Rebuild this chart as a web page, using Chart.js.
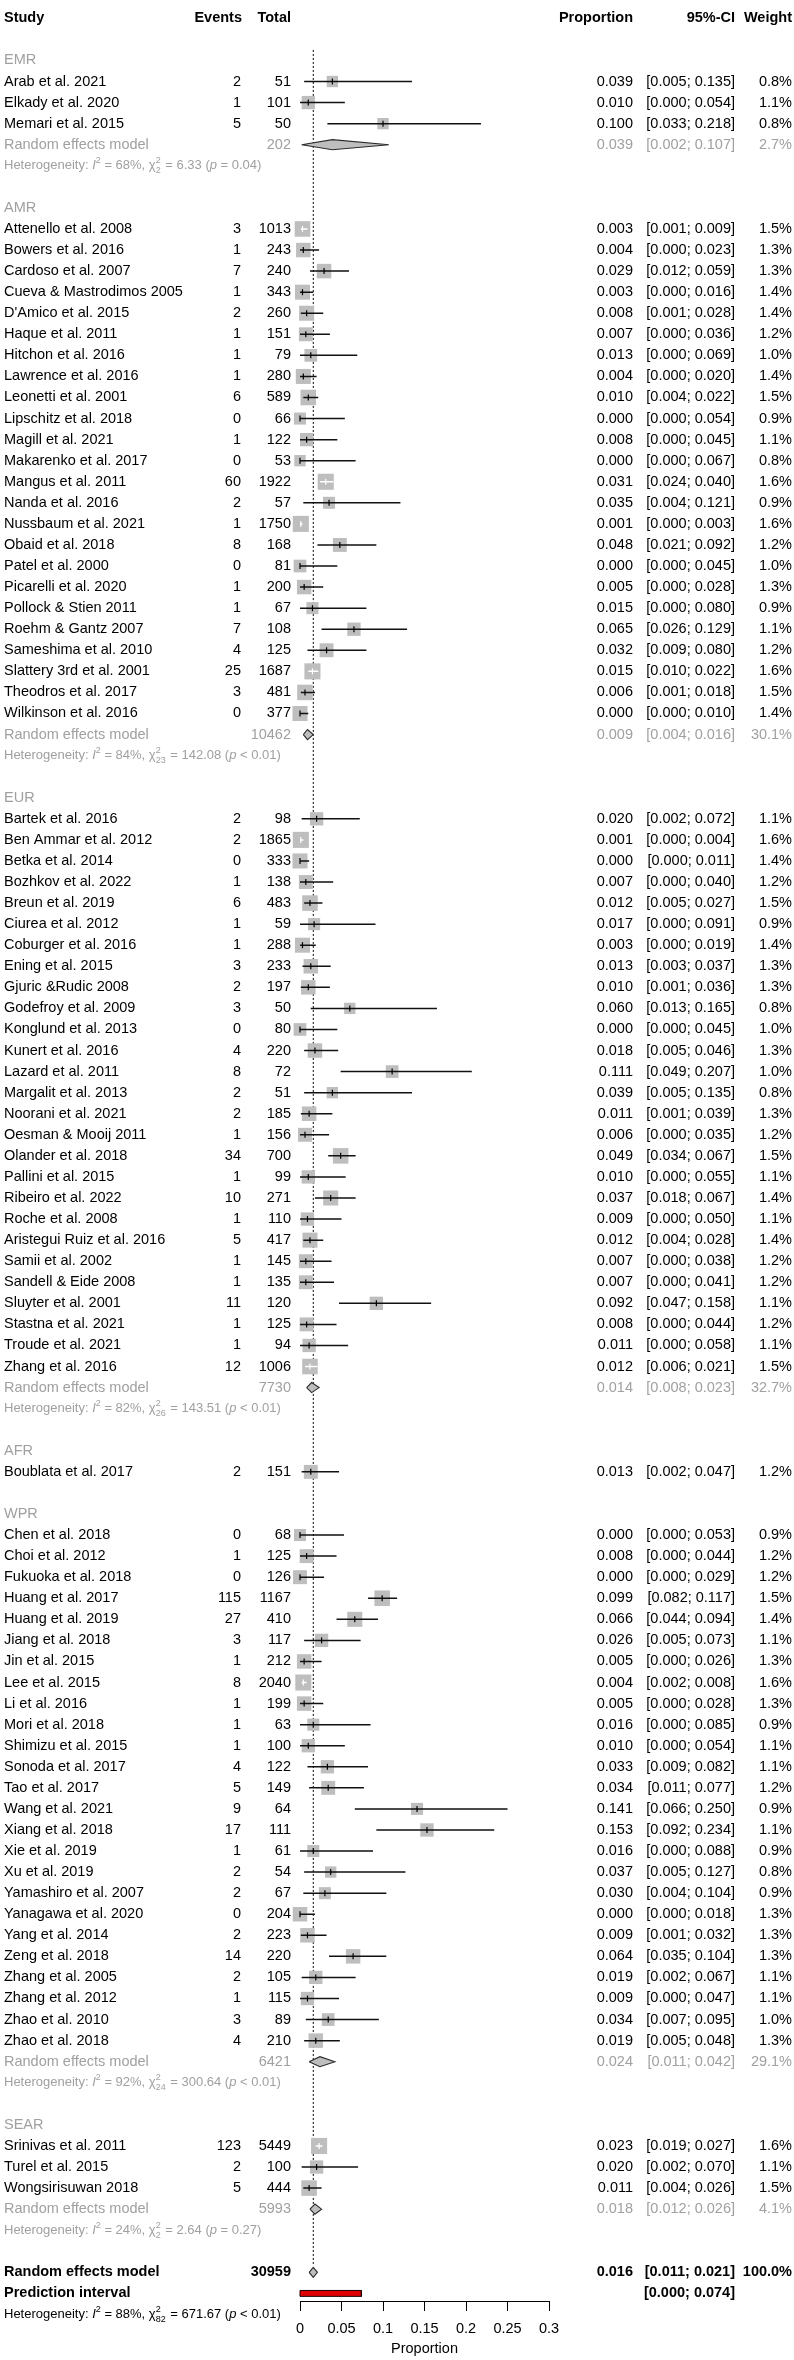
<!DOCTYPE html>
<html lang="en">
<head>
<meta charset="UTF-8" />
<title>Forest plot by WHO region</title>
<script src="https://cdn.jsdelivr.net/npm/chart.js"></script>
<style>
  body { margin: 0; background: #fff; }
  canvas { display: block; }
</style>
</head>
<body>
<canvas id="forest" width="794" height="2360"></canvas>
<script>
// ---- data ----
const regions = ['EMR', 'AMR', 'EUR', 'AFR', 'WPR', 'SEAR'];

const studyNames = [
  'Arab et al. 2021', 'Elkady et al. 2020', 'Memari et al. 2015',
  'Attenello et al. 2008', 'Bowers et al. 2016', 'Cardoso et al. 2007', 'Cueva & Mastrodimos 2005',
  "D'Amico et al. 2015", 'Haque et al. 2011', 'Hitchon et al. 2016', 'Lawrence et al. 2016',
  'Leonetti et al. 2001', 'Lipschitz et al. 2018', 'Magill et al. 2021', 'Makarenko et al. 2017',
  'Mangus et al. 2011', 'Nanda et al. 2016', 'Nussbaum et al. 2021', 'Obaid et al. 2018',
  'Patel et al. 2000', 'Picarelli et al. 2020', 'Pollock & Stien 2011', 'Roehm & Gantz 2007',
  'Sameshima et al. 2010', 'Slattery 3rd et al. 2001', 'Theodros et al. 2017', 'Wilkinson et al. 2016',
  'Bartek et al. 2016', 'Ben Ammar et al. 2012', 'Betka et al. 2014', 'Bozhkov et al. 2022',
  'Breun et al. 2019', 'Ciurea et al. 2012', 'Coburger et al. 2016', 'Ening et al. 2015',
  'Gjuric &Rudic 2008', 'Godefroy et al. 2009', 'Konglund et al. 2013', 'Kunert et al. 2016',
  'Lazard et al. 2011', 'Margalit et al. 2013', 'Noorani et al. 2021', 'Oesman & Mooij 2011',
  'Olander et al. 2018', 'Pallini et al. 2015', 'Ribeiro et al. 2022', 'Roche et al. 2008',
  'Aristegui Ruiz et al. 2016', 'Samii et al. 2002', 'Sandell & Eide 2008', 'Sluyter et al. 2001',
  'Stastna et al. 2021', 'Troude et al. 2021', 'Zhang et al. 2016',
  'Boublata et al. 2017',
  'Chen et al. 2018', 'Choi et al. 2012', 'Fukuoka et al. 2018', 'Huang et al. 2017',
  'Huang et al. 2019', 'Jiang et al. 2018', 'Jin et al. 2015', 'Lee et al. 2015', 'Li et al. 2016',
  'Mori et al. 2018', 'Shimizu et al. 2015', 'Sonoda et al. 2017', 'Tao et al. 2017',
  'Wang et al. 2021', 'Xiang et al. 2018', 'Xie et al. 2019', 'Xu et al. 2019',
  'Yamashiro et al. 2007', 'Yanagawa et al. 2020', 'Yang et al. 2014', 'Zeng et al. 2018',
  'Zhang et al. 2005', 'Zhang et al. 2012', 'Zhao et al. 2010', 'Zhao et al. 2018',
  'Srinivas et al. 2011', 'Turel et al. 2015', 'Wongsirisuwan 2018'
];
// studies per region, in plot order
const regionCounts = [3, 24, 27, 1, 25, 3];

const events = [
  2, 1, 5,
  3, 1, 7, 1, 2, 1, 1, 1, 6, 0, 1, 0, 60, 2, 1, 8, 0, 1, 1, 7, 4, 25, 3, 0,
  2, 2, 0, 1, 6, 1, 1, 3, 2, 3, 0, 4, 8, 2, 2, 1, 34, 1, 10, 1, 5, 1, 1, 11, 1, 1, 12,
  2,
  0, 1, 0, 115, 27, 3, 1, 8, 1, 1, 1, 4, 5, 9, 17, 1, 2, 2, 0, 2, 14, 2, 1, 3, 4,
  123, 2, 5
];
const totals = [
  51, 101, 50,
  1013, 243, 240, 343, 260, 151, 79, 280, 589, 66, 122, 53, 1922, 57, 1750, 168, 81, 200, 67, 108, 125, 1687, 481, 377,
  98, 1865, 333, 138, 483, 59, 288, 233, 197, 50, 80, 220, 72, 51, 185, 156, 700, 99, 271, 110, 417, 145, 135, 120, 125, 94, 1006,
  151,
  68, 125, 126, 1167, 410, 117, 212, 2040, 199, 63, 100, 122, 149, 64, 111, 61, 54, 67, 204, 223, 220, 105, 115, 89, 210,
  5449, 100, 444
];
const proportion = [
  0.039, 0.010, 0.100,
  0.003, 0.004, 0.029, 0.003, 0.008, 0.007, 0.013, 0.004, 0.010, 0.000, 0.008, 0.000, 0.031, 0.035, 0.001, 0.048, 0.000, 0.005, 0.015, 0.065, 0.032, 0.015, 0.006, 0.000,
  0.020, 0.001, 0.000, 0.007, 0.012, 0.017, 0.003, 0.013, 0.010, 0.060, 0.000, 0.018, 0.111, 0.039, 0.011, 0.006, 0.049, 0.010, 0.037, 0.009, 0.012, 0.007, 0.007, 0.092, 0.008, 0.011, 0.012,
  0.013,
  0.000, 0.008, 0.000, 0.099, 0.066, 0.026, 0.005, 0.004, 0.005, 0.016, 0.010, 0.033, 0.034, 0.141, 0.153, 0.016, 0.037, 0.030, 0.000, 0.009, 0.064, 0.019, 0.009, 0.034, 0.019,
  0.023, 0.020, 0.011
];
const ciLower = [
  0.005, 0.000, 0.033,
  0.001, 0.000, 0.012, 0.000, 0.001, 0.000, 0.000, 0.000, 0.004, 0.000, 0.000, 0.000, 0.024, 0.004, 0.000, 0.021, 0.000, 0.000, 0.000, 0.026, 0.009, 0.010, 0.001, 0.000,
  0.002, 0.000, 0.000, 0.000, 0.005, 0.000, 0.000, 0.003, 0.001, 0.013, 0.000, 0.005, 0.049, 0.005, 0.001, 0.000, 0.034, 0.000, 0.018, 0.000, 0.004, 0.000, 0.000, 0.047, 0.000, 0.000, 0.006,
  0.002,
  0.000, 0.000, 0.000, 0.082, 0.044, 0.005, 0.000, 0.002, 0.000, 0.000, 0.000, 0.009, 0.011, 0.066, 0.092, 0.000, 0.005, 0.004, 0.000, 0.001, 0.035, 0.002, 0.000, 0.007, 0.005,
  0.019, 0.002, 0.004
];
const ciUpper = [
  0.135, 0.054, 0.218,
  0.009, 0.023, 0.059, 0.016, 0.028, 0.036, 0.069, 0.020, 0.022, 0.054, 0.045, 0.067, 0.040, 0.121, 0.003, 0.092, 0.045, 0.028, 0.080, 0.129, 0.080, 0.022, 0.018, 0.010,
  0.072, 0.004, 0.011, 0.040, 0.027, 0.091, 0.019, 0.037, 0.036, 0.165, 0.045, 0.046, 0.207, 0.135, 0.039, 0.035, 0.067, 0.055, 0.067, 0.050, 0.028, 0.038, 0.041, 0.158, 0.044, 0.058, 0.021,
  0.047,
  0.053, 0.044, 0.029, 0.117, 0.094, 0.073, 0.026, 0.008, 0.028, 0.085, 0.054, 0.082, 0.077, 0.250, 0.234, 0.088, 0.127, 0.104, 0.018, 0.032, 0.104, 0.067, 0.047, 0.095, 0.048,
  0.027, 0.070, 0.026
];
const weights = [
  0.8, 1.1, 0.8,
  1.5, 1.3, 1.3, 1.4, 1.4, 1.2, 1.0, 1.4, 1.5, 0.9, 1.1, 0.8, 1.6, 0.9, 1.6, 1.2, 1.0, 1.3, 0.9, 1.1, 1.2, 1.6, 1.5, 1.4,
  1.1, 1.6, 1.4, 1.2, 1.5, 0.9, 1.4, 1.3, 1.3, 0.8, 1.0, 1.3, 1.0, 0.8, 1.3, 1.2, 1.5, 1.1, 1.4, 1.1, 1.4, 1.2, 1.2, 1.1, 1.2, 1.1, 1.5,
  1.2,
  0.9, 1.2, 1.2, 1.5, 1.4, 1.1, 1.3, 1.6, 1.3, 0.9, 1.1, 1.1, 1.2, 0.9, 1.1, 0.9, 0.8, 0.9, 1.3, 1.3, 1.3, 1.1, 1.1, 1.0, 1.3,
  1.6, 1.1, 1.5
];

// subgroup random effects (AFR has a single study, no pooled row)
const regionTotal = [202, 10462, 7730, null, 6421, 5993];
const regionProp = [0.039, 0.009, 0.014, null, 0.024, 0.018];
const regionLower = [0.002, 0.004, 0.008, null, 0.011, 0.012];
const regionUpper = [0.107, 0.016, 0.023, null, 0.042, 0.026];
const regionWeight = [2.7, 30.1, 32.7, null, 29.1, 4.1];
const regionI2 = [68, 84, 82, null, 92, 24];
const regionChi2 = [6.33, 142.08, 143.51, null, 300.64, 2.64];
const regionDf = [2, 23, 26, null, 24, 2];
const regionP = ['= 0.04', '< 0.01', '< 0.01', null, '< 0.01', '= 0.27'];

const overallTotal = 30959;
const overallEst = [0.016, 0.011, 0.021]; // estimate, lower, upper
const predInterval = [0.000, 0.074];
const overallHet = [88, 82, 671.67, '< 0.01']; // I2, df, chi2, p

const xTicks = [0, 0.05, 0.1, 0.15, 0.2, 0.25, 0.3];
const xTickLabels = ['0', '0.05', '0.1', '0.15', '0.2', '0.25', '0.3'];

// ---- layout of rows ----
const FONT = 'Arial, "Liberation Sans", sans-serif';
const GREY_TXT = '#a0a0a0';
const rows = [{ type: 'header', row: 0 }];
const studyRow = [];
let r = 2, s = 0;
regions.forEach((g, gi) => {
  rows.push({ type: 'group', row: r++, label: g });
  for (let k = 0; k < regionCounts[gi]; k++) {
    studyRow[s] = r;
    rows.push({ type: 'study', row: r++, i: s++ });
  }
  if (regionProp[gi] !== null) {
    rows.push({ type: 'pooled', row: r++, gi });
    rows.push({ type: 'het', row: r++, gi });
  }
  r++;
});
const overallRow = r;          // 107
const predRow = r + 1;         // 108
const overallHetRow = r + 2;   // 109

const pxPerUnit = 249 / 0.3;
const sideOf = w => 12.7 * Math.sqrt(w);

const ticks = [], ticksColor = [], whiteLines = [], blackLines = [];
const squares = [], squareRadius = [];
studyNames.forEach((n, i) => {
  const y = studyRow[i];
  const half = sideOf(weights[i]) / 2;
  const inside = (proportion[i] - ciLower[i]) * pxPerUnit <= half && (ciUpper[i] - proportion[i]) * pxPerUnit <= half;
  const seg = [{ x: ciLower[i], y }, { x: ciUpper[i], y }, { x: ciUpper[i], y: null }];
  (inside ? whiteLines : blackLines).push(...seg);
  ticks.push({ x: proportion[i], y });
  ticksColor.push(inside ? '#ffffff' : '#000000');
  squares.push({ x: proportion[i], y });
  squareRadius.push(sideOf(weights[i]) / (2 * Math.SQRT1_2));
});

const DH = 0.24; // diamond half height in rows
function diamond(est, lo, hi, y) {
  return {
    type: 'line',
    data: [{ x: lo, y }, { x: est, y: y - DH }, { x: hi, y }, { x: est, y: y + DH }, { x: lo, y }],
    borderColor: '#2b2b2b', borderWidth: 1.1, backgroundColor: '#bebebe',
    fill: 'shape', pointRadius: 0, tension: 0, clip: false
  };
}

const datasets = [
  { type: 'scatter', data: ticks, pointStyle: 'line', pointRotation: 90, pointRadius: 3,
    pointBorderWidth: 1.2, pointBorderColor: ticksColor, clip: false },
  { type: 'line', data: whiteLines, borderColor: '#ffffff', borderWidth: 1.5, pointRadius: 0,
    spanGaps: false, fill: false, borderCapStyle: 'butt', clip: false },
  { type: 'line', data: blackLines, borderColor: '#111111', borderWidth: 1.5, pointRadius: 0,
    spanGaps: false, fill: false, borderCapStyle: 'butt', clip: false },
  { type: 'scatter', data: squares, pointStyle: 'rect', pointRadius: squareRadius,
    pointBackgroundColor: '#bebebe', pointBorderColor: '#bebebe', pointBorderWidth: 0, clip: false }
];
rows.filter(o => o.type === 'pooled').forEach(o => {
  datasets.push(diamond(regionProp[o.gi], regionLower[o.gi], regionUpper[o.gi], o.row));
});
datasets.push(diamond(overallEst[0], overallEst[1], overallEst[2], overallRow));
datasets.push({
  type: 'line',
  data: [{ x: predInterval[0], y: predRow - 0.14 }, { x: predInterval[1], y: predRow - 0.14 },
         { x: predInterval[1], y: predRow + 0.14 }, { x: predInterval[0], y: predRow + 0.14 },
         { x: predInterval[0], y: predRow - 0.14 }],
  borderColor: '#1a0000', borderWidth: 1, backgroundColor: '#e00000',
  fill: 'shape', pointRadius: 0, tension: 0, clip: false
});
datasets.push({
  type: 'line',
  data: [{ x: overallEst[0], y: 1.5 }, { x: overallEst[0], y: overallRow - 0.3 }],
  borderColor: '#000', borderWidth: 1, borderDash: [2, 2], pointRadius: 0, fill: false, clip: false
});

// ---- text columns ----
const col = { study: 4, events: 241, total: 291, prop: 633, ci: 735, weight: 792 };
const f3 = v => v.toFixed(3);
const ciText = (lo, hi) => '[' + f3(lo) + '; ' + f3(hi) + ']';

function txt(ctx, s, x, y, align, font, color) {
  ctx.font = font;
  ctx.fillStyle = color;
  ctx.textAlign = align;
  ctx.textBaseline = 'middle';
  ctx.fillText(s, x, y);
}

function het(ctx, x, y, color, i2, df, chi2, p) {
  const norm = '13px ' + FONT, ital = 'italic 13px ' + FONT, small = '9px ' + FONT;
  let cx = x;
  ctx.fillStyle = color;
  ctx.textAlign = 'left';
  ctx.textBaseline = 'middle';
  const put = (str, font, dy) => {
    ctx.font = font;
    ctx.fillText(str, cx, y + (dy || 0));
    cx += ctx.measureText(str).width;
  };
  put('Heterogeneity: ', norm);
  put('I', ital);
  put('2', small, -5);
  put(' = ' + i2 + '%, ', norm);
  put('\u03c7', norm);
  ctx.font = small;
  const w = Math.max(ctx.measureText('2').width, ctx.measureText(String(df)).width);
  ctx.fillText('2', cx, y - 5);
  ctx.fillText(String(df), cx, y + 5);
  cx += w + 1;
  put(' = ' + chi2.toFixed(2) + ' (', norm);
  put('p', ital);
  put(' ' + p + ')', norm);
}

const textPlugin = {
  id: 'forestText',
  afterDraw(chart) {
    const ctx = chart.ctx;
    const ys = chart.scales.y;
    const reg = '14.5px ' + FONT, bold = 'bold 14.5px ' + FONT;
    ctx.save();
    rows.forEach(o => {
      const y = ys.getPixelForValue(o.row);
      if (o.type === 'header') {
        txt(ctx, 'Study', col.study, y, 'left', bold, '#000');
        txt(ctx, 'Events', col.events + 1, y, 'right', bold, '#000');
        txt(ctx, 'Total', col.total, y, 'right', bold, '#000');
        txt(ctx, 'Proportion', col.prop, y, 'right', bold, '#000');
        txt(ctx, '95%-CI', col.ci, y, 'right', bold, '#000');
        txt(ctx, 'Weight', col.weight, y, 'right', bold, '#000');
      } else if (o.type === 'group') {
        txt(ctx, o.label, col.study, y, 'left', reg, GREY_TXT);
      } else if (o.type === 'study') {
        const i = o.i;
        txt(ctx, studyNames[i], col.study, y, 'left', reg, '#000');
        txt(ctx, String(events[i]), col.events, y, 'right', reg, '#000');
        txt(ctx, String(totals[i]), col.total, y, 'right', reg, '#000');
        txt(ctx, f3(proportion[i]), col.prop, y, 'right', reg, '#000');
        txt(ctx, ciText(ciLower[i], ciUpper[i]), col.ci, y, 'right', reg, '#000');
        txt(ctx, weights[i].toFixed(1) + '%', col.weight, y, 'right', reg, '#000');
      } else if (o.type === 'pooled') {
        const g = o.gi;
        txt(ctx, 'Random effects model', col.study, y, 'left', reg, GREY_TXT);
        txt(ctx, String(regionTotal[g]), col.total, y, 'right', reg, GREY_TXT);
        txt(ctx, f3(regionProp[g]), col.prop, y, 'right', reg, GREY_TXT);
        txt(ctx, ciText(regionLower[g], regionUpper[g]), col.ci, y, 'right', reg, GREY_TXT);
        txt(ctx, regionWeight[g].toFixed(1) + '%', col.weight, y, 'right', reg, GREY_TXT);
      } else if (o.type === 'het') {
        const g = o.gi;
        het(ctx, col.study, y, GREY_TXT, regionI2[g], regionDf[g], regionChi2[g], regionP[g]);
      }
    });
    let y = ys.getPixelForValue(overallRow);
    txt(ctx, 'Random effects model', col.study, y, 'left', bold, '#000');
    txt(ctx, String(overallTotal), col.total, y, 'right', bold, '#000');
    txt(ctx, f3(overallEst[0]), col.prop, y, 'right', bold, '#000');
    txt(ctx, ciText(overallEst[1], overallEst[2]), col.ci, y, 'right', bold, '#000');
    txt(ctx, '100.0%', col.weight, y, 'right', bold, '#000');
    y = ys.getPixelForValue(predRow);
    txt(ctx, 'Prediction interval', col.study, y, 'left', bold, '#000');
    txt(ctx, ciText(predInterval[0], predInterval[1]), col.ci, y, 'right', bold, '#000');
    y = ys.getPixelForValue(overallHetRow);
    het(ctx, col.study, y, '#000', overallHet[0], overallHet[1], overallHet[2], overallHet[3]);
    ctx.restore();
  }
};

new Chart(document.getElementById('forest'), {
  type: 'scatter',
  data: { datasets },
  options: {
    responsive: false,
    devicePixelRatio: 1,
    animation: false,
    events: [],
    layout: { padding: { left: 300, right: 245, top: 0, bottom: 0 } },
    plugins: { legend: { display: false }, tooltip: { enabled: false } },
    scales: {
      x: {
        type: 'linear', min: 0, max: 0.3,
        afterBuildTicks: sc => { sc.ticks = xTicks.map(v => ({ value: v })); },
        afterFit: sc => { sc.height = 59; },
        ticks: { callback: (v, i) => xTickLabels[i], color: '#000', padding: 9,
                 maxRotation: 0, autoSkip: false, font: { family: FONT, size: 14.5 } },
        grid: { drawOnChartArea: false, drawTicks: true, tickLength: 10, color: '#000', lineWidth: 1 },
        border: { color: '#000', width: 1 },
        title: { display: true, text: 'Proportion', color: '#000',
                 font: { family: FONT, size: 14.5 }, padding: { top: 0, bottom: 2 } }
      },
      y: { type: 'linear', reverse: true, min: -0.33, max: 108.36, display: false }
    }
  },
  plugins: [textPlugin]
});
</script>
</body>
</html>
